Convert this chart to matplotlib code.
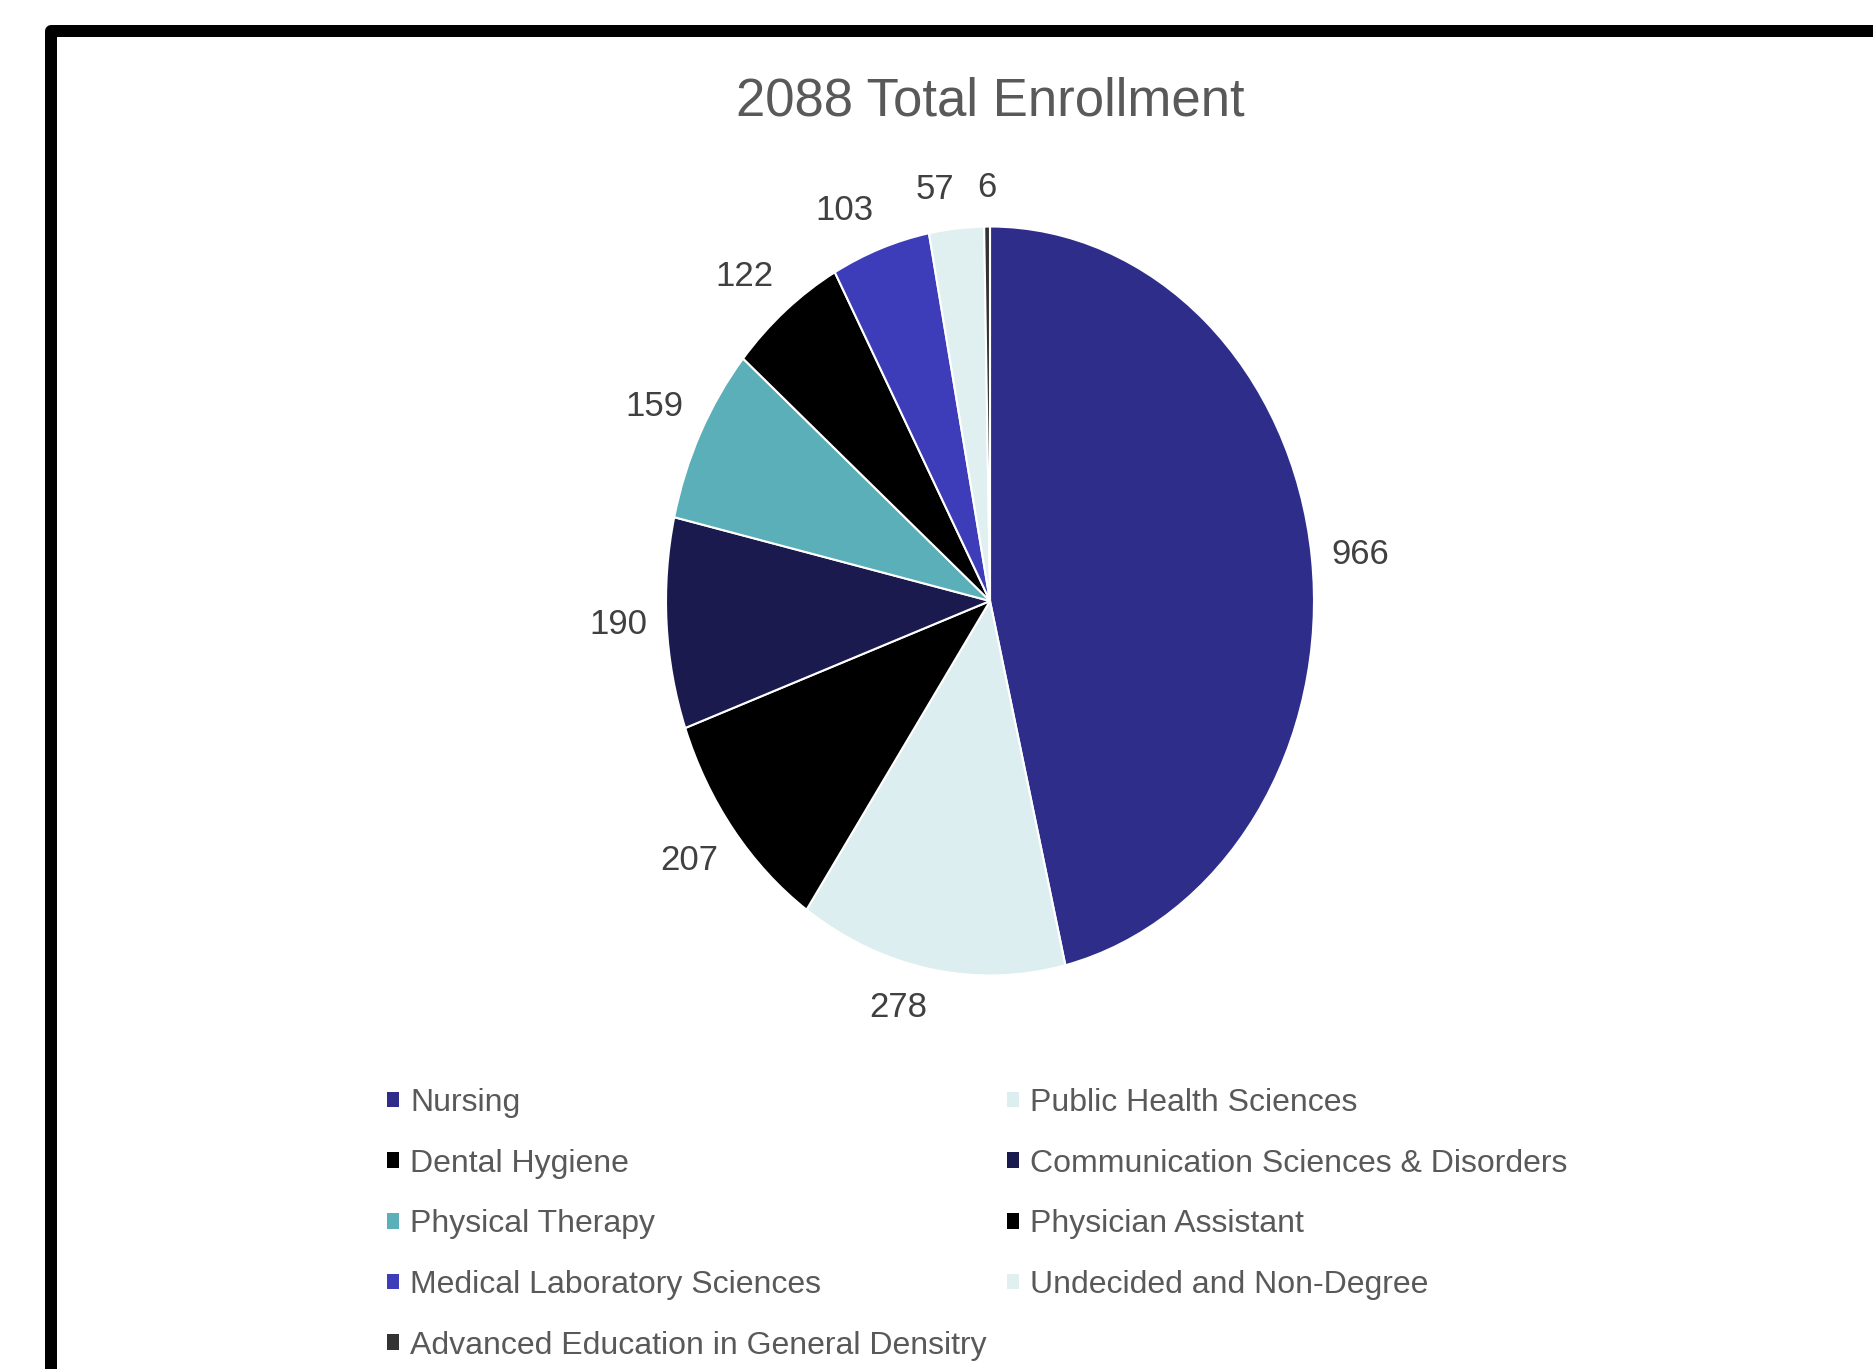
import numpy as np
import matplotlib
matplotlib.use("Agg")
import matplotlib.pyplot as plt
from matplotlib.patches import Rectangle

# data
programs = ['Nursing', 'Public Health Sciences', 'Dental Hygiene',
            'Communication Sciences & Disorders', 'Physical Therapy',
            'Physician Assistant', 'Medical Laboratory Sciences',
            'Undecided and Non-Degree', 'Advanced Education in General Densitry']
enrollment = [966, 278, 207, 190, 159, 122, 103, 57, 6]
colors = ['#2E2D8A', '#DDEEF0', '#000000', '#1B1A4F', '#5BAFB8',
          '#000000', '#3D3CB9', '#E0F0F1', '#333333']
title = '2088 Total Enrollment'

plt.rcParams['font.family'] = ['Liberation Sans Narrow', 'Liberation Sans', 'DejaVu Sans']

W, H = 1873, 1369
fig = plt.figure(figsize=(W / 100, H / 100), dpi=100)

# black frame, cut off at right and bottom
fig.add_artist(Rectangle((51 / W, -0.1), 1.5, 1 - 31 / H + 0.1,
                         transform=fig.transFigure, fill=False,
                         edgecolor='black', linewidth=8.64, joinstyle='round'))

fig.text(990 / W, 1 - 116 / H, title, ha='center', va='baseline',
         fontsize=38, color='#595959')

# pie (elliptical, like the reference)
cx, cy, rx, ry = 990, 601, 324, 374.5
ax = fig.add_axes([(cx - 1.25 * rx) / W, (H - cy - 1.25 * ry) / H,
                   2.5 * rx / W, 2.5 * ry / H])
wedges, _ = ax.pie(enrollment, colors=colors, startangle=90, counterclock=False,
                   wedgeprops=dict(edgecolor='white', linewidth=1.5))
ax.set_aspect('auto')
ax.set_xlim(-1.25, 1.25)
ax.set_ylim(-1.25, 1.25)

# value labels just outside each slice (outside end)
for w, v in zip(wedges, enrollment):
    ang = np.deg2rad((w.theta1 + w.theta2) / 2)
    c, s = np.cos(ang), np.sin(ang)
    ha = 'left' if c > 0.05 else ('right' if c < -0.05 else 'center')
    va = 'bottom' if s > 0.3 else ('top' if s < -0.3 else 'center')
    ax.text(1.06 * c, 1.06 * s, str(v), ha=ha, va=va,
            fontsize=25, color='#404040')

# legend laid out row by row in two columns
col1 = [0, 2, 4, 6, 8]
col2 = [1, 3, 5, 7]
for idx, x0 in [(col1, 387), (col2, 1007)]:
    leg = fig.legend([wedges[i] for i in idx], [programs[i] for i in idx],
                     loc='upper left', bbox_to_anchor=(x0 / W, 1 - 1088 / H),
                     frameon=False, fontsize=23, borderpad=0, borderaxespad=0,
                     handlelength=0.37, handleheight=0.37, handletextpad=0.35,
                     labelspacing=0.96)
    for t in leg.get_texts():
        t.set_color('#595959')
    for h in leg.legend_handles:
        h.set_edgecolor('none')

fig.savefig('out.png', dpi=100)
